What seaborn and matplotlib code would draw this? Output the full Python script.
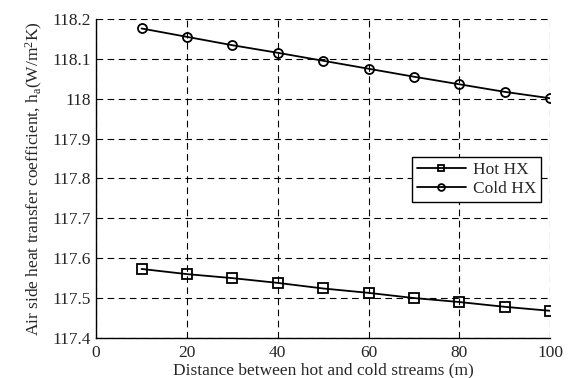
import matplotlib
matplotlib.use("Agg")
import matplotlib.pyplot as plt
import seaborn as sns
import pandas as pd
from matplotlib.ticker import FuncFormatter

# distance between hot and cold streams (m)
distance = [10, 20, 30, 40, 50, 60, 70, 80, 90, 100]
hot_hx = [117.573, 117.560, 117.550, 117.538, 117.524, 117.513, 117.500, 117.490, 117.478, 117.468]
cold_hx = [118.176, 118.155, 118.134, 118.115, 118.095, 118.075, 118.055, 118.036, 118.017, 118.001]

x_ticks = [0, 20, 40, 60, 80, 100]
y_ticks = [117.4, 117.5, 117.6, 117.7, 117.8, 117.9, 118.0, 118.1, 118.2]

df = pd.DataFrame({"distance": distance + distance,
                   "h": hot_hx + cold_hx,
                   "series": ["Hot HX"] * len(distance) + ["Cold HX"] * len(distance)})

sns.set_style("white")
plt.rcParams['font.family'] = ['Liberation Serif', 'DejaVu Serif']
plt.rcParams['mathtext.fontset'] = 'custom'
plt.rcParams['mathtext.rm'] = 'Liberation Serif'
plt.rcParams['mathtext.it'] = 'Liberation Serif'

fs = 12.5

fig, ax = plt.subplots(figsize=(5.69, 3.78), dpi=100)

sns.lineplot(data=df, x="distance", y="h", hue="series", style="series",
             palette={"Hot HX": "black", "Cold HX": "black"},
             markers={"Hot HX": "s", "Cold HX": "o"}, dashes=False,
             markersize=6.5, markerfacecolor="none", markeredgecolor="black",
             markeredgewidth=1.3, linewidth=1.3, ax=ax)

ax.set_xlim(0, 100)
ax.set_ylim(117.4, 118.2)
ax.set_xticks(x_ticks)
ax.set_yticks(y_ticks)
ax.yaxis.set_major_formatter(FuncFormatter(lambda v, p: f"{v:g}"))
ax.tick_params(direction="in", labelsize=fs, length=4, color="black")
ax.tick_params(axis="x", pad=5)
ax.tick_params(axis="y", pad=4)

ax.grid(True, linestyle=(0, (6, 4)), color="black", linewidth=0.8)
for side in ["top", "right"]:
    ax.spines[side].set_visible(False)
for side in ["left", "bottom"]:
    ax.spines[side].set_color("black")
    ax.spines[side].set_linewidth(1.0)

ax.set_xlabel("Distance between hot and cold streams (m)", fontsize=fs, labelpad=1)
ax.set_ylabel(r"Air side heat transfer coefficient, h$_\mathrm{a}$(W/m$^2$K)", fontsize=fs, labelpad=5)

leg = ax.legend(loc="upper right", bbox_to_anchor=(0.98, 0.567), fontsize=fs,
                frameon=True, fancybox=False, edgecolor="black", framealpha=1,
                handlelength=2.8, handletextpad=0.4, markerscale=0.75,
                borderpad=0.3, labelspacing=0.15, borderaxespad=0)
leg.get_frame().set_linewidth(1.0)
leg.set_title(None)

fig.subplots_adjust(left=0.169, right=0.967, top=0.95, bottom=0.106)
fig.savefig("out.png", dpi=100)
